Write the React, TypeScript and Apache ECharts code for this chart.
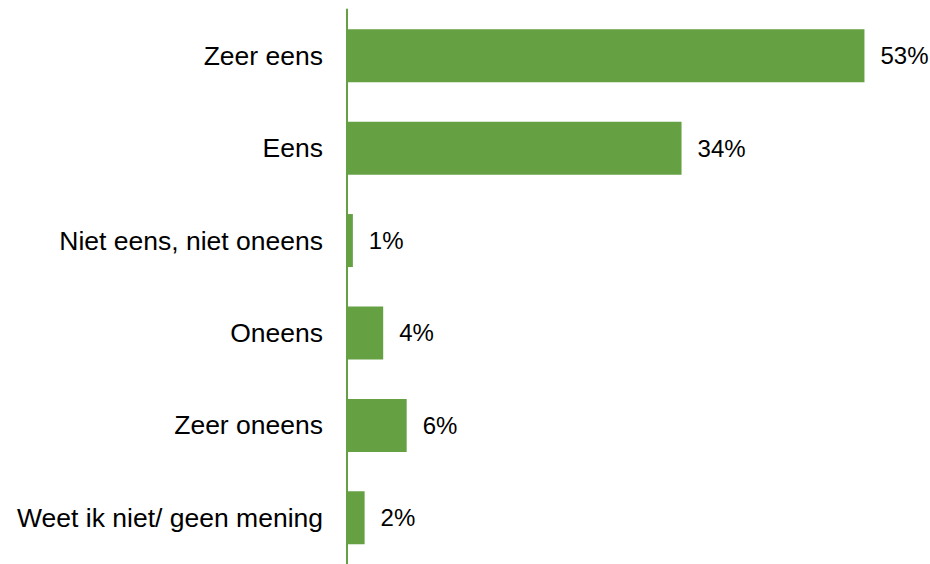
import React, { useEffect, useRef } from "react";
import * as echarts from "echarts";

const categories = [
  "Zeer eens",
  "Eens",
  "Niet eens, niet oneens",
  "Oneens",
  "Zeer oneens",
  "Weet ik niet/ geen mening",
];
const values = [52.9, 34.2, 0.6, 3.7, 6.1, 1.8];

const GREEN = "#65A043";

export default function App() {
  const ref = useRef<HTMLDivElement>(null);
  useEffect(() => {
    if (!ref.current) return;
    const chart = echarts.init(ref.current, null, { renderer: "svg" });
    chart.setOption({
      animation: false,
      backgroundColor: "#ffffff",
      grid: { left: 347, top: 9.5, width: 538, height: 558, containLabel: false },
      xAxis: {
        type: "value",
        min: 0,
        max: 55,
        show: false,
      },
      yAxis: {
        type: "category",
        data: categories,
        inverse: true,
        axisLine: { show: true, lineStyle: { color: GREEN, width: 2 } },
        axisTick: { show: false },
        axisLabel: {
          margin: 24,
          fontFamily: "Liberation Sans, Arial, sans-serif",
          fontSize: 26.5,
          color: "#000000",
        },
        splitLine: { show: false },
      },
      series: [
        {
          type: "bar",
          data: values,
          barWidth: 53,
          itemStyle: { color: GREEN },
          label: {
            show: true,
            position: "right",
            distance: 16,
            fontFamily: "Liberation Sans, Arial, sans-serif",
            fontSize: 24,
            color: "#000000",
            formatter: (p: any) => `${Math.round(p.value)}%`,
          },
        },
      ],
    });
    return () => chart.dispose();
  }, []);
  return (
    <div
      ref={ref}
      style={{ position: "fixed", left: 0, top: 0, width: 930, height: 564, background: "#fff" }}
    />
  );
}
